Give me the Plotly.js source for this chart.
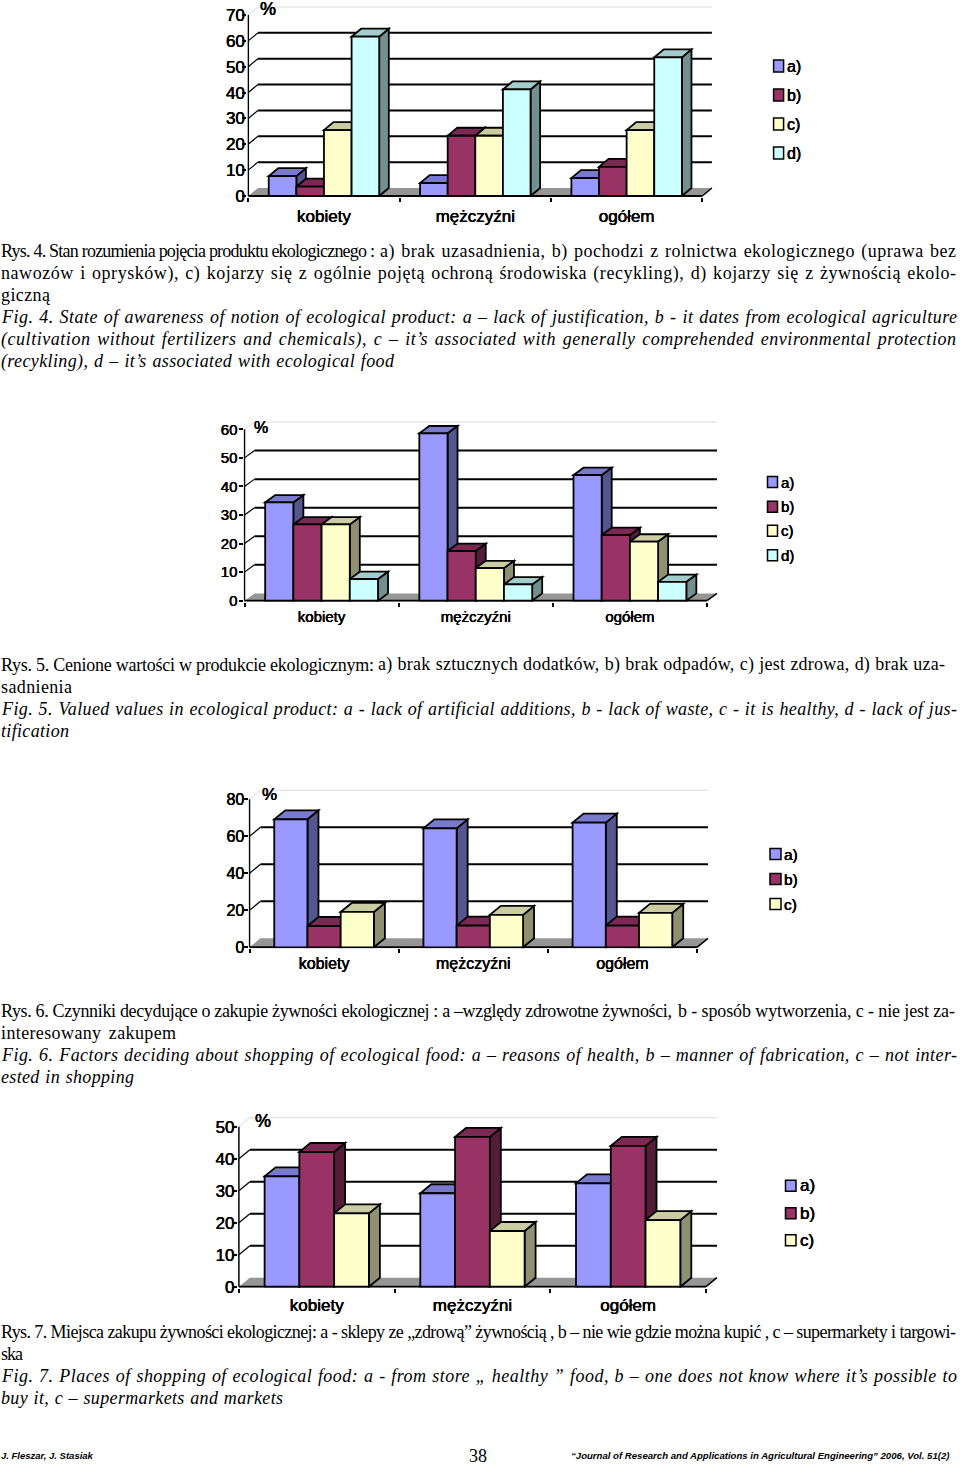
<!DOCTYPE html>
<html>
<head>
<meta charset="utf-8">
<script src="https://cdn.plot.ly/plotly-3.0.1.min.js"></script>
<style>html,body{margin:0;padding:0;background:#fff}#g{width:960px;height:1468px}</style>
</head>
<body>
<div id="g"></div>
<script>
const categories = ["kobiety", "mężczyźni", "ogółem"];
const seriesNames = ["a)", "b)", "c)", "d)"];

const chart4a = [7.7, 5.0, 6.9];
const chart4b = [3.6, 23.3, 11.3];
const chart4c = [25.5, 23.3, 25.5];
const chart4d = [61.6, 41.2, 53.6];
const chart5a = [34.4, 58.6, 44.0];
const chart5b = [26.7, 17.4, 23.0];
const chart5c = [26.7, 11.4, 20.7];
const chart5d = [7.6, 5.7, 6.6];
const chart6a = [69.2, 64.3, 67.4];
const chart6b = [11.5, 11.7, 11.7];
const chart6c = [19.1, 17.5, 18.6];
const chart7a = [34.5, 29.2, 32.3];
const chart7b = [42.1, 46.8, 44.0];
const chart7c = [22.9, 17.4, 20.8];

const ticks4 = [0, 10, 20, 30, 40, 50, 60, 70];
const ticks5 = [0, 10, 20, 30, 40, 50, 60];
const ticks6 = [0, 20, 40, 60, 80];
const ticks7 = [0, 10, 20, 30, 40, 50];

const frontColors = ["#9999FF", "#993366", "#FFFFCC", "#CCFFFF"];
const topColors = ["#7A7ACC", "#7A2952", "#CCCCA3", "#A3CCCC"];
const sideColors = ["#55558F", "#551C3A", "#8F8F72", "#729090"];

const W = 960, H = 1468;
const thick = "0.2px 0 0 #000, -0.2px 0 0 #000";
const charts = [
  {series:[chart4a,chart4b,chart4c,chart4d], ticks:ticks4, x0:248.3, x1:702.3, y0:196, yt:15, dx:9.6, dy:8, gap:0.27, font:17,
   pct:[268,9], legX:773.6, legW:10, legH:12, legText:787, legFont:16, legY:[66,95,124,153], xOff:7, yOff:-6},
  {series:[chart5a,chart5b,chart5c,chart5d], ticks:ticks5, x0:244.5, x1:707, y0:600.7, yt:429.3, dx:10, dy:7.3, gap:0.268, font:15,
   pct:[262,428], legX:767.5, legW:10, legH:11, legText:781, legFont:15, legY:[482,506.7,530.7,555.3], xOff:4, yOff:-2},
  {series:[chart6a,chart6b,chart6c], ticks:ticks6, x0:249.5, x1:697, y0:947.3, yt:799.3, dx:11, dy:9, gap:0.332, font:16,
   pct:[270,794], legX:770, legW:11, legH:11, legText:783.5, legFont:15.5, legY:[854,879,904], xOff:4, yOff:-4},
  {series:[chart7a,chart7b,chart7c], ticks:ticks7, x0:238.9, x1:706, y0:1286.7, yt:1126.7, dx:11, dy:9, gap:0.33, font:17,
   pct:[263,1121], legX:785.5, legW:10.5, legH:11, legText:800, legFont:17, legY:[1185.7,1213.3,1240.3], xOff:5, yOff:-5}
];

const captionLines = [
  ["Rys. 4. Stan rozumienia pojęcia produktu ekologicznego :", 1, 251, 374, false],
  ["a) brak uzasadnienia, b) pochodzi z rolnictwa ekologicznego (uprawa bez", 380, 251, 576, false],
  ["nawozów i oprysków), c) kojarzy się z ogólnie pojętą ochroną środowiska (recykling), d) kojarzy się z żywnością ekolo-", 1, 273, 955, false],
  ["giczną", 1, 295, 49, false],
  ["Fig. 4. State of awareness of notion of ecological product: a – lack of justification, b - it dates from ecological agriculture", 1, 317, 955, true],
  ["(cultivation without fertilizers and chemicals), c – it’s associated with generally comprehended environmental protection", 1, 339, 955, true],
  ["(recykling), d – it’s associated with ecological food", 1, 361, 393, true],
  ["Rys. 5. Cenione wartości w produkcie ekologicznym:", 1, 665, 373, false],
  ["a) brak sztucznych dodatków, b) brak odpadów, c) jest zdrowa, d) brak uza-", 378, 665, 567, false],
  ["sadnienia", 1, 687, 71, false],
  ["Fig. 5. Valued values in ecological product: a - lack of artificial additions, b - lack of waste, c - it is healthy, d - lack of jus-", 1, 709, 955, true],
  ["tification", 1, 731, 68, true],
  ["Rys. 6. Czynniki decydujące o zakupie żywności ekologicznej : a –względy zdrowotne żywności,", 1, 1011, 671, false],
  ["b - sposób wytworzenia, c - nie jest za-", 678, 1011, 277, false],
  ["interesowany zakupem", 1, 1033, 175, false],
  ["Fig. 6. Factors deciding about shopping of ecological food: a – reasons of health, b – manner of fabrication, c – not inter-", 1, 1055, 955, true],
  ["ested in shopping", 1, 1077, 133, true],
  ["Rys. 7. Miejsca zakupu żywności ekologicznej: a - sklepy ze „zdrową” żywnością , b – nie wie gdzie można kupić , c – supermarkety i targowi-", 1, 1332, 955, false],
  ["ska", 1, 1354, 22, false],
  ["Fig. 7. Places of shopping of ecological food: a - from store „ healthy ” food, b – one does not know where it’s possible to", 1, 1376, 955, true],
  ["buy it, c – supermarkets and markets", 1, 1398, 282, true]
];

const traces = [], shapes = [], annotations = [], layout = {};
const fits = [];

function note(text, px, py, font, extra) {
  annotations.push(Object.assign({
    text, xref:"paper", yref:"paper", x:px/W, y:1-py/H, xanchor:"left", yanchor:"middle",
    align:"left", showarrow:false, borderpad:0, borderwidth:0, font
  }, extra || {}));
}

charts.forEach((c, k) => {
  const sfx = k === 0 ? "" : String(k + 1);
  const xa = "x" + sfx, ya = "y" + sfx;
  const maxV = c.ticks[c.ticks.length - 1];
  const catW = (c.x1 - c.x0) / 3;
  const unit = (c.y0 - c.yt) / maxV;
  const dX = c.dx / catW, dY = c.dy / unit;
  const xLo = -0.5, xHi = 2.5;
  const n = c.series.length;
  const bw = (1 - c.gap) / n;

  layout["xaxis" + sfx] = {
    type:"category", categoryorder:"array", categoryarray:categories, anchor:ya,
    domain:[(c.x0 - 1) / W, (c.x1 + c.dx + 3) / W],
    range:[xLo - 1 / catW, xHi + (c.dx + 3) / catW],
    tickson:"boundaries", ticks:"outside", ticklen:4, tickwidth:1.5, tickcolor:"#000",
    showline:false, showgrid:false, zeroline:false, ticklabelstandoff:c.xOff,
    tickfont:{family:"Liberation Sans", size:c.font, color:"#000", shadow:thick}
  };
  layout["yaxis" + sfx] = {
    anchor:xa,
    domain:[1 - (c.y0 + 1) / H, 1 - (c.yt - c.dy - 2) / H],
    range:[-1 / unit, maxV + (c.dy + 2) / unit],
    tickmode:"array", tickvals:c.ticks, ticktext:c.ticks.map(String),
    ticks:"outside", ticklen:4, tickwidth:1.5, tickcolor:"#000",
    showline:false, showgrid:false, zeroline:false, ticklabelstandoff:c.yOff,
    tickfont:{family:"Liberation Sans", size:c.font, color:"#000", shadow:thick}
  };

  const sh = (path, fill, lw, col, layer) => shapes.push({
    type:"path", xref:xa, yref:ya, path, fillcolor:fill || "rgba(0,0,0,0)",
    line:{color:col || "#000", width:lw}, layer:layer || "below"
  });
  const P = pts => "M" + pts.map(p => p[0].toFixed(4) + "," + p[1].toFixed(4)).join("L") + "Z";
  const L = (a, b) => "M" + a[0].toFixed(4) + "," + a[1].toFixed(4) + "L" + b[0].toFixed(4) + "," + b[1].toFixed(4);

  // floor
  sh(P([[xLo,0],[xHi,0],[xHi+dX,dY],[xLo+dX,dY]]), "#969696", 0, "#969696");
  // wall grid
  c.ticks.forEach((v, i) => {
    if (i === 0) return;
    const light = i === c.ticks.length - 1;
    const col = light ? "#DDDDDD" : "#000";
    sh(L([xLo,v],[xLo+dX,v+dY]), null, light ? 1 : 1.2, col);
    sh(L([xLo+dX,v+dY],[xHi+dX,v+dY]), null, light ? 1 : 2, col);
  });
  // axes
  sh(L([xLo,0],[xLo,maxV]), null, 1.5);
  sh(L([xLo,0],[xHi,0]), null, 2);
  sh(L([xHi,0],[xHi+dX,dY]), null, 1.5);

  // 3D parts of the bars, computed from the values
  for (let g = 0; g < categories.length; g++) {
    c.series.forEach((vals, s) => {
      const v = vals[g];
      const l = g + (-n / 2 + s) * bw, r = l + bw;
      sh(P([[r,0],[r+dX,dY],[r+dX,v+dY],[r,v]]), sideColors[s], 1.8);
      sh(P([[l,v],[r,v],[r+dX,v+dY],[l+dX,v+dY]]), topColors[s], 1.8);
    });
  }

  c.series.forEach((vals, s) => {
    traces.push({
      type:"bar", name:seriesNames[s], x:categories, y:vals, xaxis:xa, yaxis:ya,
      width:bw, offset:(-n / 2 + s) * bw,
      marker:{color:frontColors[s], line:{color:"#000", width:1.8}},
      showlegend:false, hoverinfo:"x+y+name"
    });
    const yc = c.legY[s];
    shapes.push({
      type:"rect", xref:"paper", yref:"paper",
      x0:c.legX / W, x1:(c.legX + c.legW) / W,
      y0:1 - (yc + c.legH / 2) / H, y1:1 - (yc - c.legH / 2) / H,
      fillcolor:frontColors[s], line:{color:"#000", width:1.5}, layer:"above"
    });
    note(seriesNames[s], c.legText, yc, {family:"Liberation Sans", size:c.legFont, color:"#000", shadow:thick});
  });
  note("%", c.pct[0] - 8, c.pct[1], {family:"Liberation Sans", size:c.font + 1, color:"#000", shadow:thick});
});

captionLines.forEach(([text, x, y, w, italic]) => {
  if (w > 0) fits.push([annotations.length, w]);
  note(text, x, y, {family:"Liberation Serif", size:18, color:"#000", style:italic ? "italic" : "normal"});
});

note("J. Fleszar, J. Stasiak", 1, 1455, {family:"Liberation Sans", size:9.5, color:"#000", weight:"bold", style:"italic"});
note("38", 469, 1456, {family:"Liberation Serif", size:18, color:"#000"});
note("“Journal of Research and Applications in Agricultural Engineering” 2006, Vol. 51(2)", 571, 1455,
  {family:"Liberation Sans", size:9.6, color:"#000", weight:"bold", style:"italic"});

Object.assign(layout, {
  width:W, height:H, margin:{l:0, r:0, t:0, b:0, pad:0}, autosize:false,
  paper_bgcolor:"#fff", plot_bgcolor:"rgba(0,0,0,0)", barmode:"overlay", showlegend:false,
  shapes, annotations
});

Plotly.newPlot("g", traces, layout, {displayModeBar:false, responsive:false}).then(gd => {
  // fit caption lines to their printed width: mostly letter spacing, some word spacing
  fits.forEach(([idx, w]) => {
    const el = gd.querySelector('.annotation[data-index="' + idx + '"] .annotation-text');
    if (!el) return;
    const len = el.getComputedTextLength();
    const txt = el.textContent;
    const spaces = (txt.match(/ /g) || []).length;
    const extra = w - len;
    if (extra >= 0 && spaces > 0) {
      el.style.letterSpacing = (extra * 0.75 / (txt.length - 1)) + "px";
      el.style.wordSpacing = (extra * 0.25 / spaces) + "px";
    } else {
      el.style.letterSpacing = (extra / Math.max(txt.length - 1, 1)) + "px";
    }
  });
});
</script>
</body>
</html>
